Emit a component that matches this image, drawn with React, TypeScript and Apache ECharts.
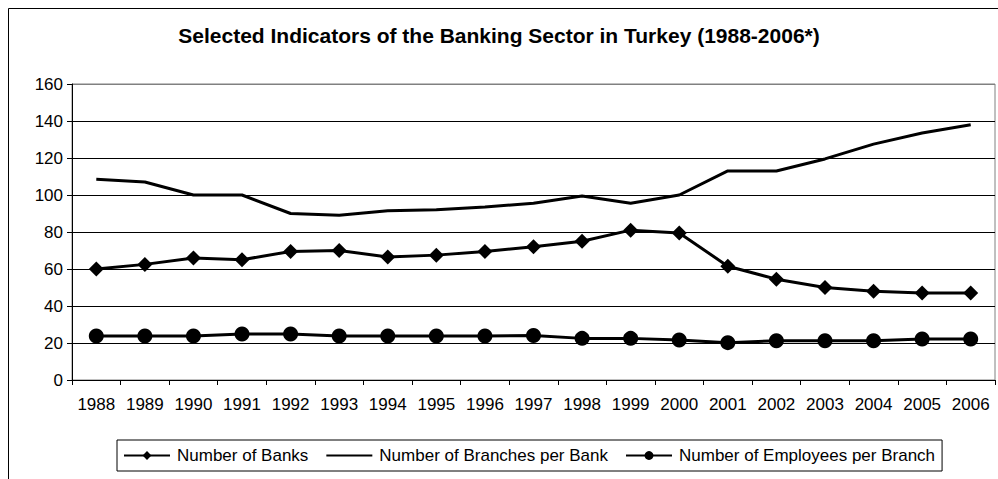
import React, { useEffect, useRef } from "react";
import * as echarts from "echarts";

const titleText = "Selected Indicators of the Banking Sector in Turkey (1988-2006*)";
const years = ["1988", "1989", "1990", "1991", "1992", "1993", "1994", "1995", "1996", "1997", "1998", "1999", "2000", "2001", "2002", "2003", "2004", "2005", "2006"];
const numberOfBanks = [60, 62.5, 66, 65, 69.5, 70, 66.5, 67.5, 69.5, 72, 75, 81, 79.5, 61.5, 54.5, 50, 48, 47, 47];
const branchesPerBank = [108.5, 107, 100, 100, 90, 89, 91.5, 92, 93.5, 95.5, 99.5, 95.5, 100, 113, 113, 119.5, 127.5, 133.5, 138];
const employeesPerBranch = [23.8, 23.8, 23.8, 24.8, 24.8, 23.8, 23.8, 23.8, 23.8, 24, 22.5, 22.5, 21.6, 20.2, 21.2, 21.2, 21.2, 22.2, 22.2];
const seriesNames = ["Number of Banks", "Number of Branches per Bank", "Number of Employees per Branch"];

const FONT = "Arial, 'Liberation Sans', sans-serif";

export default function App() {
  const ref = useRef<HTMLDivElement>(null);
  useEffect(() => {
    if (!ref.current) return;
    const chart = echarts.init(ref.current, null, { renderer: "svg" });
    chart.setOption({
      animation: false,
      backgroundColor: "#ffffff",
      textStyle: { fontFamily: FONT, color: "#000" },
      title: {
        text: titleText,
        left: "center",
        top: 25,
        padding: 0,
        textStyle: { fontFamily: FONT, fontSize: 21, fontWeight: "bold", color: "#000" },
      },
      graphic: [
        {
          type: "rect",
          z: -10,
          shape: { x: 8.5, y: 8.5, width: 1100, height: 700 },
          style: { fill: "none", stroke: "#000", lineWidth: 1 },
          silent: true,
        },
      ],
      grid: {
        left: 72,
        right: 3,
        top: 84,
        bottom: 99,
        show: true,
        borderColor: "#808080",
        borderWidth: 1,
        backgroundColor: "transparent",
      },
      legend: {
        data: [
          { name: seriesNames[0] },
          { name: seriesNames[1], itemStyle: { opacity: 0 } },
          { name: seriesNames[2] },
        ],
        left: 117,
        top: 440,
        orient: "horizontal",
        padding: [7, 7, 7, 6],
        itemGap: 17,
        itemWidth: 46,
        itemHeight: 11,
        borderColor: "#000",
        borderWidth: 1,
        borderRadius: 0,
        backgroundColor: "#fff",
        textStyle: { fontFamily: FONT, fontSize: 17, color: "#000", padding: [0, 0, 0, 2] },
      },
      xAxis: {
        type: "category",
        data: years,
        boundaryGap: true,
        axisLine: { lineStyle: { color: "#000", width: 1 } },
        axisTick: { show: true, interval: 0, length: 5, alignWithLabel: false, lineStyle: { color: "#000" } },
        axisLabel: { interval: 0, margin: 16, fontFamily: FONT, fontSize: 17, color: "#000" },
        splitLine: { show: false },
      },
      yAxis: {
        type: "value",
        min: 0,
        max: 160,
        interval: 20,
        axisLine: { show: true, lineStyle: { color: "#000", width: 1 } },
        axisTick: { show: true, length: 5, lineStyle: { color: "#000" } },
        axisLabel: { margin: 9, fontFamily: FONT, fontSize: 17, color: "#000" },
        splitLine: {
          show: true,
          lineStyle: { color: ["#000", "#000", "#000", "#000", "#000", "#000", "#000", "#000", "#808080"], width: 1 },
        },
      },
      series: [
        {
          name: seriesNames[0],
          type: "line",
          data: numberOfBanks,
          symbol: "diamond",
          symbolSize: 15,
          lineStyle: { color: "#000", width: 3 },
          itemStyle: { color: "#000" },
        },
        {
          name: seriesNames[1],
          type: "line",
          data: branchesPerBank,
          symbol: "none",
          lineStyle: { color: "#000", width: 3 },
          itemStyle: { color: "#000" },
        },
        {
          name: seriesNames[2],
          type: "line",
          data: employeesPerBranch,
          symbol: "circle",
          symbolSize: 15,
          lineStyle: { color: "#000", width: 3 },
          itemStyle: { color: "#000" },
        },
      ],
    });
    return () => chart.dispose();
  }, []);
  return (
    <div
      ref={ref}
      style={{ position: "fixed", left: 0, top: 0, width: 998, height: 479 }}
    />
  );
}
